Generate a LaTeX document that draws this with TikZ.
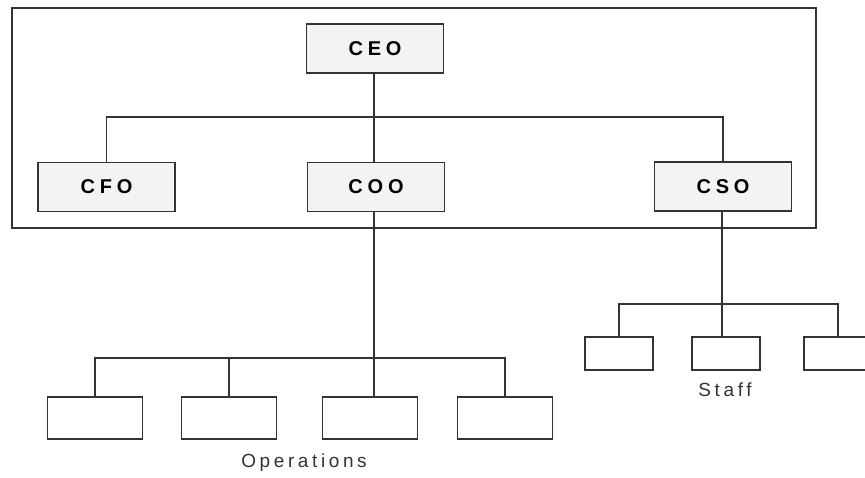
\documentclass[tikz,border=0pt]{standalone}
\usepackage{fontspec}
\setmainfont{Liberation Sans}
\newfontfamily\chieffont[LetterSpace=24]{Liberation Sans}
\newfontfamily\groupfont[LetterSpace=19]{Liberation Sans}
\usepackage{xcolor}
\definecolor{boxgray}{HTML}{F3F3F3}
\definecolor{linegray}{HTML}{333333}

\begin{document}
\begin{tikzpicture}[x=1pt, y=-1pt,
    chief/.style={draw=linegray, fill=boxgray, line width=1.6pt, inner sep=0pt,
        minimum width=137pt, minimum height=49pt,
        font=\fontsize{20}{22}\chieffont\bfseries},
    unit/.style={draw=linegray, fill=white, line width=1.6pt, inner sep=0pt},
    link/.style={draw=linegray, line width=1.5pt},
    group/.style={font=\fontsize{19}{21}\groupfont, text=linegray}]
            \useasboundingbox (0,0) rectangle (865,478);
            % frame round the top of the board
            \draw[linegray, line width=1.4pt] (12,8) rectangle (816,228);

            \node[chief] (ceo) at (375,48.5) {CEO};

            \node[chief] (cfo) at (106.5,187)  {CFO};
            \node[chief] (coo) at (376,187)    {COO};
            \node[chief] (cso) at (723,186.5)  {CSO};

            \coordinate (topbus) at (374,117);
            \draw[link] (ceo.south -| topbus) -- (coo.north -| topbus);
            \draw[link] (cfo) |- (topbus) -| (cso);

            % operations under the COO
            \node[unit, minimum width=95pt, minimum height=42pt] (op1) at (95,418)  {};
            \node[unit, minimum width=95pt, minimum height=42pt] (op2) at (229,418) {};
            \node[unit, minimum width=95pt, minimum height=42pt] (op3) at (370,418) {};
            \node[unit, minimum width=95pt, minimum height=42pt] (op4) at (505,418) {};

            \coordinate (opbus) at (374,358);
            \draw[link] (coo.south -| opbus) -- (op3.north -| opbus);
            \draw[link] (op1) |- (opbus) -| (op4);
            \draw[link] (op2) -- (op2 |- opbus);

            \node[group] (ops) at (304,463) {Operations};

            % staff under the CSO
            \node[unit, minimum width=68pt, minimum height=33pt] (st1) at (619,353.5) {};
            \node[unit, minimum width=68pt, minimum height=33pt] (st2) at (726,353.5) {};
            \node[unit, minimum width=68pt, minimum height=33pt] (st3) at (838,353.5) {};

            \coordinate (staffbus) at (722,304);
            \draw[link] (cso.south -| staffbus) -- (st2.north -| staffbus);
            \draw[link] (st1) |- (staffbus) -| (st3);

            \node[group] (staff) at (725,390) {Staff};
\end{tikzpicture}
\end{document}
